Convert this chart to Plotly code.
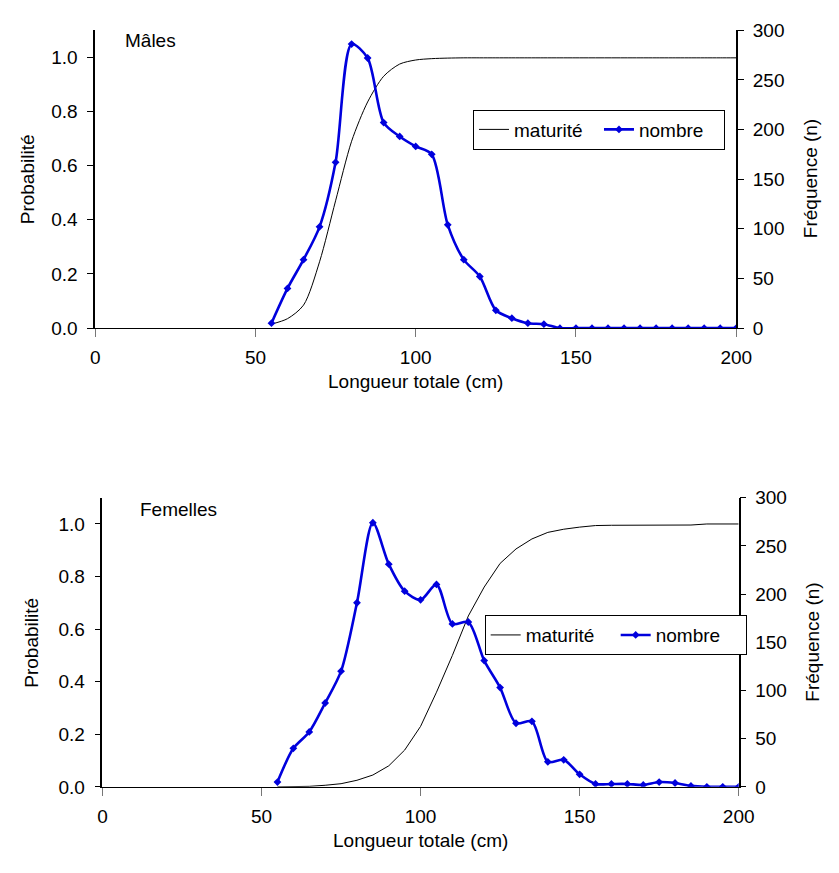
import plotly.graph_objects as go

# ---------------- data ----------------
longueur = [55, 60, 65, 70, 75, 80, 85, 90, 95, 100, 105, 110, 115, 120, 125,
            130, 135, 140, 145, 150, 155, 160, 165, 170, 175, 180, 185, 190, 195, 200]

males_maturite = [0.015, 0.035, 0.085, 0.245, 0.47, 0.69, 0.835, 0.93, 0.975, 0.99,
                  0.995, 0.997, 0.998, 0.998, 0.998, 0.998, 0.998, 0.998, 0.998, 0.998,
                  0.998, 0.998, 0.998, 0.998, 0.998, 0.998, 0.998, 0.998, 0.998, 0.998]
males_nombre = [5, 40, 69, 102, 167, 286, 272, 207, 193, 183, 175, 104, 69, 52, 18,
                10, 5, 4, 0, 0, 0, 0, 0, 0, 0, 0, 0, 0, 0, 0]

femelles_maturite = [0.0, 0.0, 0.002, 0.006, 0.012, 0.025, 0.045, 0.08, 0.14, 0.23,
                     0.36, 0.50, 0.65, 0.76, 0.85, 0.905, 0.943, 0.968, 0.98, 0.988,
                     0.994, 0.995, 0.995, 0.995, 0.995, 0.995, 0.996, 1.0, 1.0, 1.0]
femelles_nombre = [5, 40, 57, 87, 120, 191, 274, 231, 203, 194, 210, 169, 171, 131, 103,
                   66, 68, 26, 28, 13, 3, 3, 3, 2, 5, 4, 1, 0, 0, 0]

x_ticks = [0, 50, 100, 150, 200]
prob_ticks = [0.0, 0.2, 0.4, 0.6, 0.8, 1.0]
prob_labels = ["0.0", "0.2", "0.4", "0.6", "0.8", "1.0"]
freq_ticks = [0, 50, 100, 150, 200, 250, 300]

# ---------------- style ----------------
W, H = 839, 873
FONT = "Arial, 'Liberation Sans', sans-serif"
FS = 19
BLUE = "#0000dd"

def px_x(p):
    return p / W

def px_y(p):
    return 1 - p / H

fig = go.Figure()

# top (Mâles)
fig.add_trace(go.Scatter(x=longueur, y=males_maturite, name="maturité", mode="lines",
                         line=dict(color="black", width=1, shape="spline", smoothing=0.8),
                         xaxis="x", yaxis="y", legend="legend"))
fig.add_trace(go.Scatter(x=longueur, y=males_nombre, name="nombre", mode="lines+markers",
                         line=dict(color=BLUE, width=2.6, shape="spline", smoothing=0.8),
                         marker=dict(symbol="diamond", size=6, color=BLUE),
                         xaxis="x", yaxis="y2", legend="legend"))
# bottom (Femelles)
fig.add_trace(go.Scatter(x=longueur, y=femelles_maturite, name="maturité", mode="lines",
                         line=dict(color="black", width=1),
                         xaxis="x2", yaxis="y3", legend="legend2"))
fig.add_trace(go.Scatter(x=longueur, y=femelles_nombre, name="nombre", mode="lines+markers",
                         line=dict(color=BLUE, width=2.6, shape="spline", smoothing=0.8),
                         marker=dict(symbol="diamond", size=6, color=BLUE),
                         xaxis="x2", yaxis="y4", legend="legend2"))

tickfont = dict(family=FONT, size=FS, color="black")

def xax(domain, anchor):
    return dict(domain=domain, anchor=anchor, range=[0, 200], tickvals=x_ticks,
                ticks="outside", ticklen=8, tickcolor="#777777", tickwidth=1,
                showline=True, linecolor="black", linewidth=1.3, showgrid=False,
                zeroline=False, tickfont=tickfont, ticklabelstandoff=4, fixedrange=True)

def yleft(domain, anchor):
    return dict(domain=domain, anchor=anchor, range=[0, 1.1], tickvals=prob_ticks,
                ticktext=prob_labels, ticks="outside", ticklen=6, tickcolor="black",
                showline=True, linecolor="black", linewidth=1.5, showgrid=False,
                zeroline=False, tickfont=tickfont, ticklabelstandoff=6)

def yright(overlay, anchor):
    return dict(overlaying=overlay, anchor=anchor, side="right", range=[0, 300],
                tickvals=freq_ticks, ticks="outside", ticklen=6, tickcolor="black",
                showline=True, linecolor="black", linewidth=1.5, showgrid=False,
                zeroline=False, tickfont=tickfont, ticklabelstandoff=5)

top_x = [px_x(92.5), px_x(750)]
top_y = [px_y(326), px_y(20.7)]
bot_x = [px_x(100), px_x(752.5)]
bot_y = [px_y(796), px_y(499.7)]

legend_style = dict(orientation="h", xanchor="left", yanchor="top",
                    bordercolor="black", borderwidth=1, bgcolor="white",
                    entrywidthmode="pixels",
                    font=dict(family=FONT, size=FS, color="black"))

fig.update_layout(
    width=W, height=H,
    margin=dict(l=0, r=0, t=0, b=0),
    paper_bgcolor="white", plot_bgcolor="white",
    showlegend=True,
    xaxis=xax(top_x, "y"),
    yaxis=dict(yleft(top_y, "x")),
    yaxis2=yright("y", "x"),
    xaxis2=xax(bot_x, "y3"),
    yaxis3=dict(yleft(bot_y, "x2")),
    yaxis4=yright("y3", "x2"),
    legend=dict(legend_style, x=px_x(480), y=px_y(102), entrywidth=80),
    legend2=dict(legend_style, x=px_x(492), y=px_y(620), entrywidth=85),
)

def ann(text, x, y, angle=0, xanchor="center"):
    fig.add_annotation(text=text, x=px_x(x), y=px_y(y), xref="paper", yref="paper",
                       showarrow=False, textangle=angle, xanchor=xanchor, yanchor="middle",
                       font=dict(family=FONT, size=FS, color="black"))

ann("Mâles", 121, 31.5, xanchor="left")
ann("Femelles", 136, 511.5, xanchor="left")
ann("Probabilité", 23, 173, angle=-90)
ann("Probabilité", 27, 648, angle=-90)
ann("Fréquence (n)", 827, 173, angle=-90)
ann("Fréquence (n)", 828, 648, angle=-90)
ann("Longueur totale (cm)", 421, 381)
ann("Longueur totale (cm)", 426, 851)

fig.write_html(
    "out.html",
    post_script="document.body.style.margin='0';document.body.style.padding='0';"
                "document.documentElement.style.overflow='hidden';",
)
